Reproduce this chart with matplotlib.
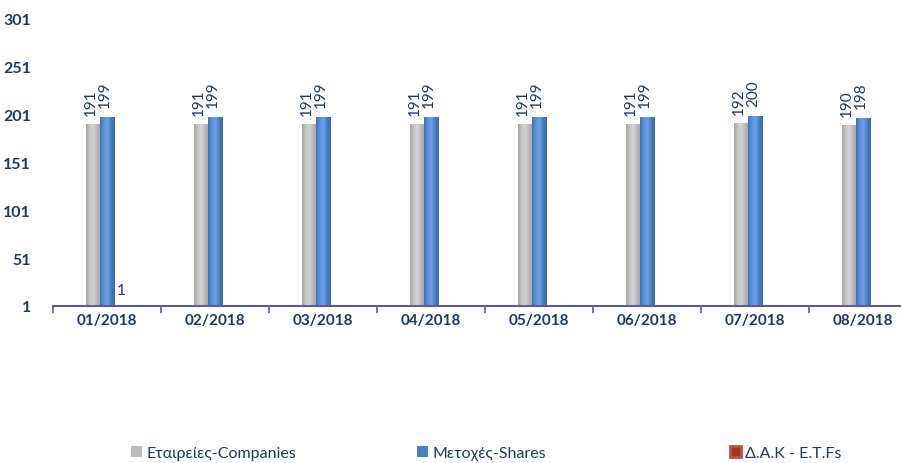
import matplotlib
matplotlib.use("Agg")
import matplotlib.pyplot as plt
import numpy as np
from matplotlib.patches import Patch
from matplotlib.colors import LinearSegmentedColormap

months = ["01/2018", "02/2018", "03/2018", "04/2018", "05/2018", "06/2018", "07/2018", "08/2018"]
companies = [191, 191, 191, 191, 191, 191, 192, 190]
shares = [199, 199, 199, 199, 199, 199, 200, 198]
etfs = [1, 0, 0, 0, 0, 0, 0, 0]
series_names = ["Εταιρείες-Companies", "Μετοχές-Shares", "Δ.Α.Κ - E.T.Fs"]
yticks = [1, 51, 101, 151, 201, 251, 301]

navy = "#1f3864"
axis_col = "#5c5c9a"
c_grey = "#bdbbbc"
c_blue = "#4a7fc8"
c_red = "#c0504d"

plt.rcParams['font.family'] = ['Lato', 'DejaVu Sans']
fig = plt.figure(figsize=(9.01, 4.64), dpi=100)
ax = fig.add_axes([53/901, 1 - 307/464, 848/901, (307-20)/464])

x = np.arange(len(months))
w = 0.13
b1 = ax.bar(x - w, companies, width=w, color=c_grey, zorder=2)
b2 = ax.bar(x, shares, width=w, color=c_blue, zorder=2)
b3 = ax.bar(x + w, etfs, width=w, color=c_red, zorder=2)

grey_cmap = LinearSegmentedColormap.from_list("g", ["#aaa4a6", "#c8c6c7", "#d6d6d6", "#b8b8b8", "#a5a5a5"])
blue_cmap = LinearSegmentedColormap.from_list("b", ["#3f6fb8", "#5d92dc", "#6a9fe6", "#4a7fc8", "#3a66ad"])
grad = np.linspace(0, 1, 64).reshape(1, -1)
for bars, cmap in [(b1, grey_cmap), (b2, blue_cmap)]:
    for p in bars:
        x0, y0 = p.get_x(), p.get_y()
        im = ax.imshow(grad, cmap=cmap, aspect='auto', zorder=2.1,
                       extent=(x0, x0 + p.get_width(), y0, y0 + p.get_height()))
        im.set_clip_path(p)

for i in range(len(months)):
    ax.text(x[i] - w - 0.02, companies[i] + 10, str(companies[i]), rotation=90, ha='center', va='bottom',
            color=navy, fontsize=11)
    ax.text(x[i] - 0.02, shares[i] + 10, str(shares[i]), rotation=90, ha='center', va='bottom',
            color=navy, fontsize=11)
    if etfs[i] > 0:
        ax.text(x[i] + w, etfs[i] + 9, str(etfs[i]), ha='center', va='bottom',
                color=navy, fontsize=11)

ax.set_ylim(1, 301)
ax.set_yticks(yticks)
ax.set_yticklabels([str(v) for v in yticks], color=navy, fontsize=11.5, fontweight='bold')
ax.set_xticks(x)
ax.set_xticklabels(months, color=navy, fontsize=11, fontweight='bold')
ax.set_xticks(np.arange(len(months) + 1) - 0.5, minor=True)
ax.set_xlim(-0.5, -0.5 + 848/108)
ax.tick_params(axis='x', which='major', length=0, pad=5)
ax.tick_params(axis='x', which='minor', length=5, color=axis_col, width=1.2, direction='out')
ax.tick_params(axis='y', length=0, pad=16)
for s in ['top', 'right', 'left']:
    ax.spines[s].set_visible(False)
ax.spines['bottom'].set_color(axis_col)
ax.spines['bottom'].set_linewidth(1.5)

handles = [Patch(facecolor=c_grey), Patch(facecolor=c_blue), Patch(facecolor="#9b3a1a", edgecolor=c_red, linewidth=2)]
positions = [123, 409, 722]
for h, name, px in zip(handles, series_names, positions):
    fig.legend([h], [name], loc='center left', bbox_to_anchor=(px/901, 1 - 454/464),
               frameon=False, fontsize=11.5, handlelength=0.7, handleheight=0.7,
               handletextpad=0.25, borderpad=0, labelcolor=navy)

fig.savefig("out.png", dpi=100)
